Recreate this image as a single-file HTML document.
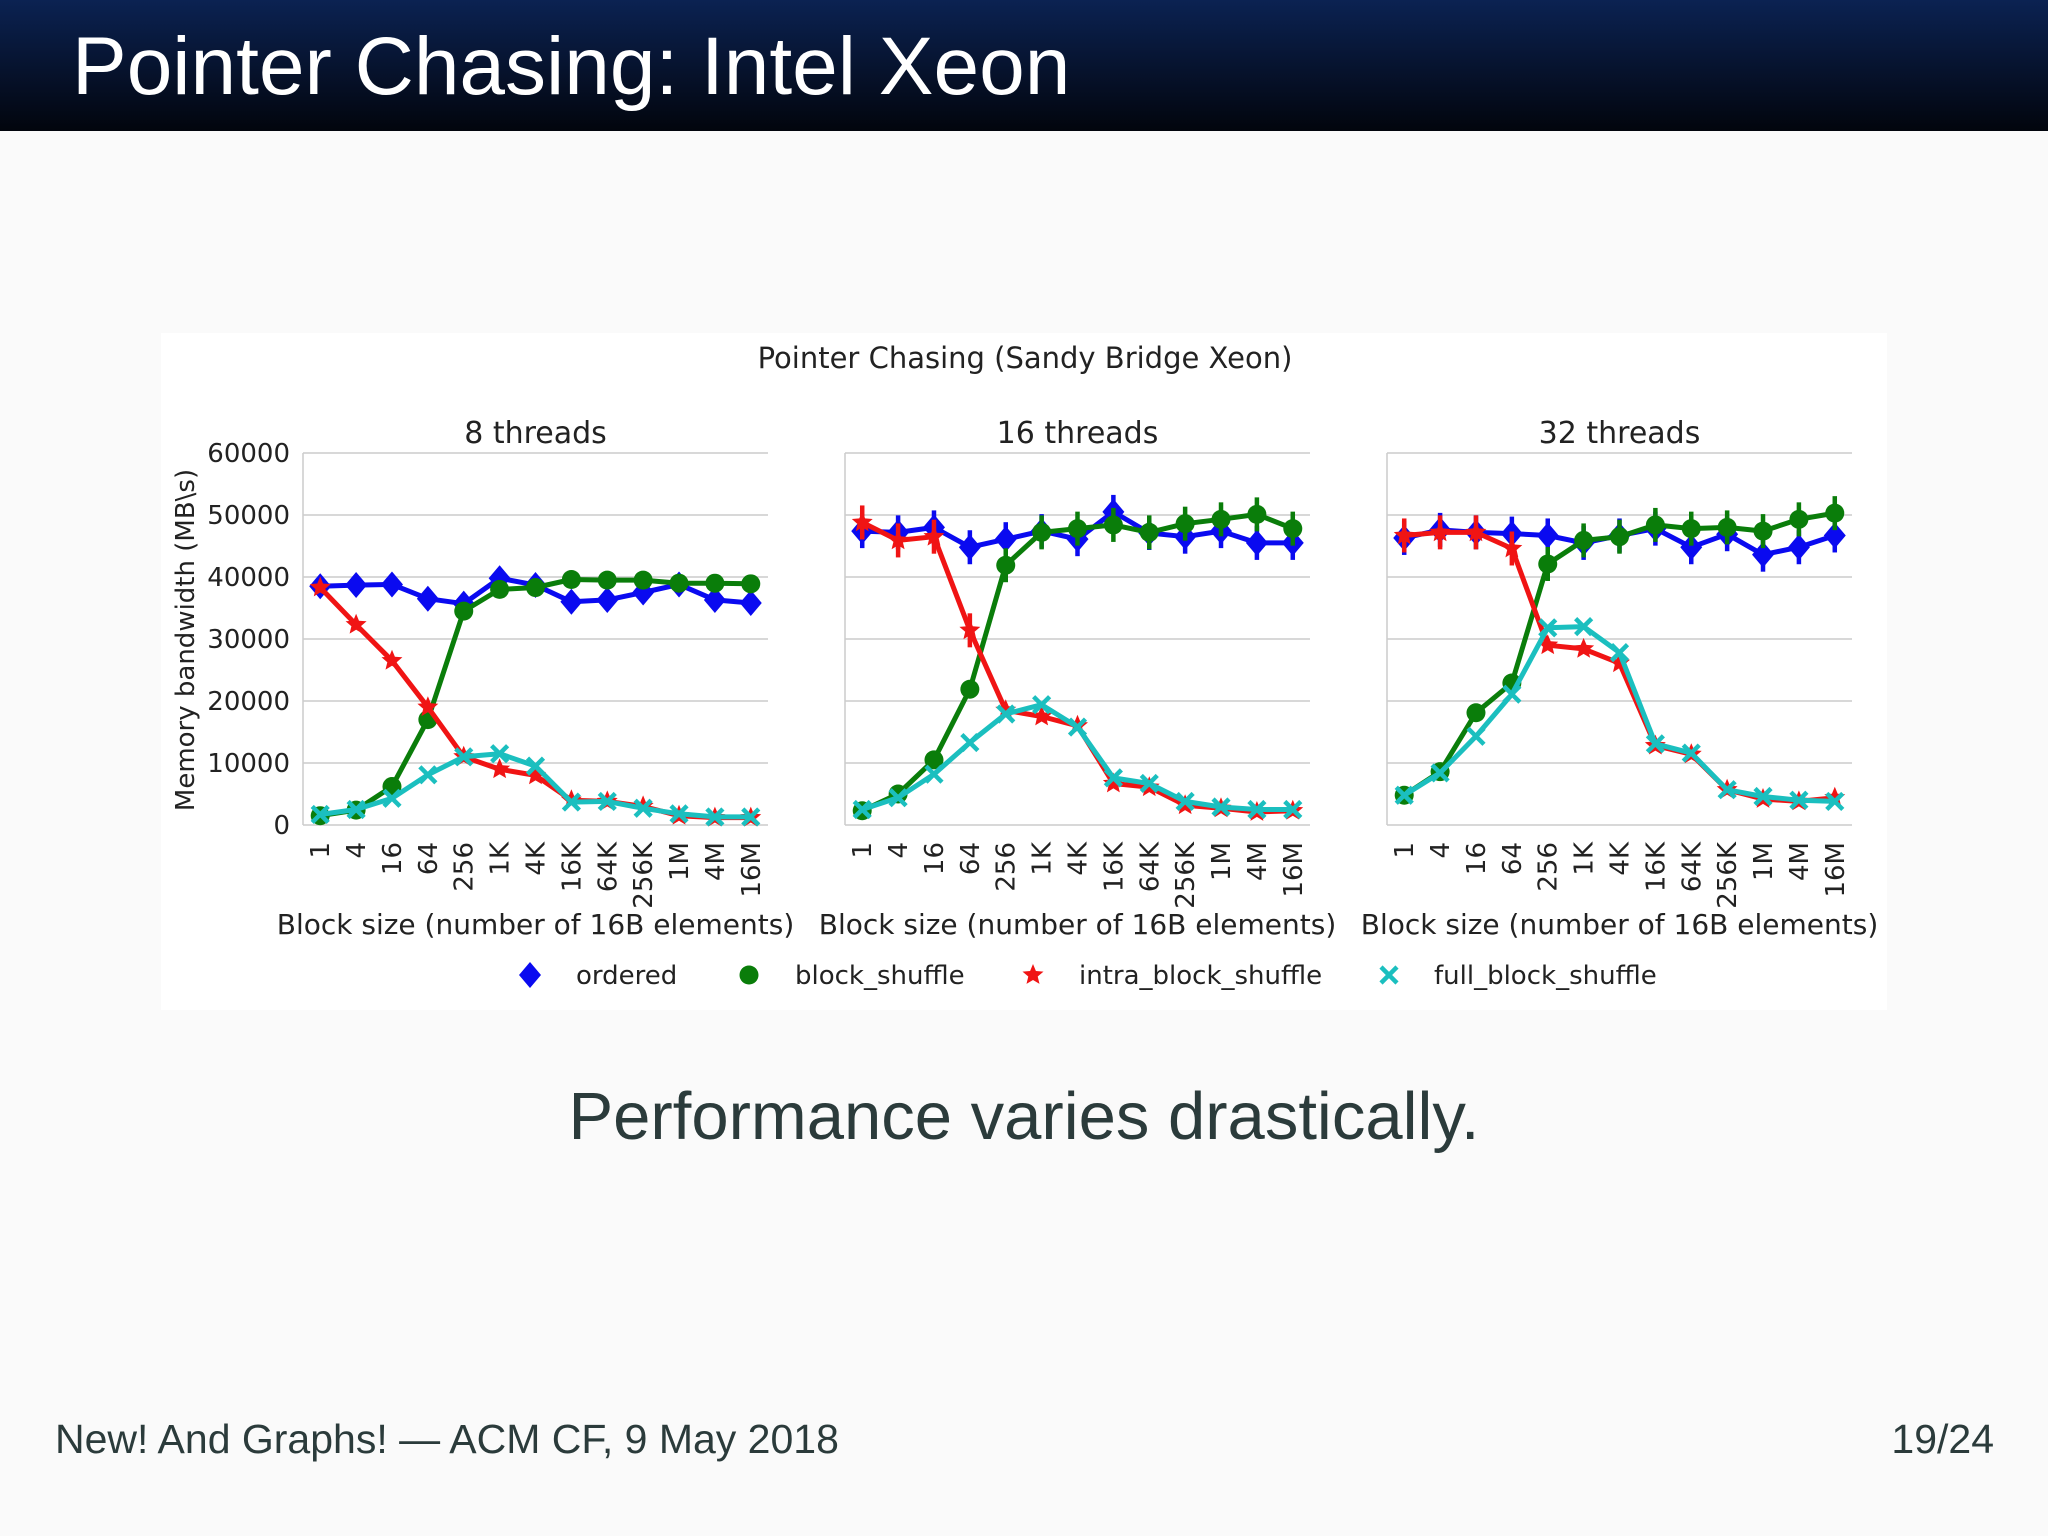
<!DOCTYPE html>
<html><head><meta charset="utf-8"><style>
body{margin:0;width:2048px;height:1536px;background:#fafafa;overflow:hidden;font-family:"DejaVu Sans","Liberation Sans",sans-serif}
#bar{position:absolute;left:0;top:0;width:2048px;height:131px;background:linear-gradient(#0b2252,#02050d)}
#bar div{position:absolute;left:72px;top:20px;color:#fff;font-size:82px;font-family:"Liberation Sans",sans-serif}
#sub{position:absolute;left:0;width:2048px;top:1078px;text-align:center;font-size:67px;color:#2b3b3b;font-family:"Liberation Sans",sans-serif}
#foot{position:absolute;left:55px;top:1416px;font-size:41px;color:#2b3b3b;font-family:"Liberation Sans",sans-serif}
#pg{position:absolute;right:54px;top:1416px;font-size:41px;color:#2b3b3b;font-family:"Liberation Sans",sans-serif}
svg{position:absolute;left:0;top:0}
</style></head><body>
<div id="bar"><div>Pointer Chasing: Intel Xeon</div></div>
<svg id="ch" width="2048" height="1536"></svg>
<div id="sub">Performance varies drastically.</div>
<div id="foot">New! And Graphs! — ACM CF, 9 May 2018</div>
<div id="pg">19/24</div>
<script>
const categories=["1","4","16","64","256","1K","4K","16K","64K","256K","1M","4M","16M"];
const yTicks=[0,10000,20000,30000,40000,50000,60000];
const panelTitles=["8 threads","16 threads","32 threads"];
const seriesNames=["ordered","block_shuffle","intra_block_shuffle","full_block_shuffle"];
const p1Ordered=[38500,38700,38800,36500,35700,39800,38700,36000,36300,37500,38800,36300,35800];
const p1Block=[1500,2400,6200,17000,34500,38000,38300,39600,39500,39500,39000,39000,38900];
const p1Intra=[38300,32300,26500,19000,11000,9000,8000,4000,3800,3000,1500,1200,1200];
const p1Full=[1700,2500,4300,8100,11000,11500,9500,3700,3800,2700,1800,1300,1300];
const p2Ordered=[47400,47200,48000,44800,46100,47400,46100,50500,47100,46500,47400,45500,45500];
const p2Block=[2300,5000,10500,21900,41900,47200,47800,48400,47200,48600,49300,50100,47800];
const p2Intra=[48800,45900,46500,31400,18500,17500,16000,6700,6100,3200,2700,2100,2300];
const p2Full=[2500,4400,8200,13300,17900,19400,15800,7600,6700,3800,2900,2500,2500];
const p3Ordered=[46300,47600,47200,47000,46700,45500,46700,47800,44800,46900,43600,44800,46700];
const p3Block=[4800,8600,18100,22900,42100,45900,46500,48400,47800,48000,47400,49300,50300];
const p3Intra=[46700,47200,47200,44600,29000,28400,26100,12800,11400,5700,4200,3800,4400];
const p3Full=[4800,8400,14300,21100,31800,32000,27800,13100,11600,5700,4600,4000,3800];
const panelData=[[p1Ordered,p1Block,p1Intra,p1Full],[p2Ordered,p2Block,p2Intra,p2Full],[p3Ordered,p3Block,p3Intra,p3Full]];
const colors=["#0a0af0","#0a7d0a","#f01414","#1bbfbf"];
const panelLeft=[303,845,1387],PW=465,PT=453,PB=825;
const svg=document.getElementById('ch');const NS="http://www.w3.org/2000/svg";
function el(t,a,p){const e=document.createElementNS(NS,t);for(const k in a)e.setAttribute(k,a[k]);(p||svg).appendChild(e);return e;}
function txt(s,a,p){const e=el('text',a,p);e.textContent=s;return e;}
let r=el('rect',{x:161,y:333,width:1726,height:677,fill:'#fff'});


let t=txt("Pointer Chasing (Sandy Bridge Xeon)",{x:1025,y:368,'text-anchor':'middle','font-size':29,fill:'#222'});


t=txt("Memory bandwidth (MB\\s)",{transform:'translate(194,640) rotate(-90)','text-anchor':'middle','font-size':26,fill:'#222'});


function star(cx,cy,R){let p=[];for(let i=0;i<10;i++){const a=-Math.PI/2+i*Math.PI/5,rr=i%2?R*0.45:R;p.push((cx+rr*Math.cos(a)).toFixed(1)+','+(cy+rr*Math.sin(a)).toFixed(1));}return p.join(' ');}
function marker(k,x,y,g){let m;
 if(k==0)m=el('polygon',{points:`${x},${y-13} ${x+11},${y} ${x},${y+13} ${x-11},${y}`,fill:colors[0]},g);
 else if(k==1)m=el('circle',{cx:x,cy:y,r:9.5,fill:colors[1]},g);
 else if(k==2)m=el('polygon',{points:star(x,y,11),fill:colors[2]},g);
 else{m=el('path',{d:`M${x-8},${y-8}L${x+8},${y+8}M${x-8},${y+8}L${x+8},${y-8}`,stroke:colors[3],'stroke-width':4.5},g);}
 return m;}
panelData.forEach((series,pi)=>{
 const L=panelLeft[pi];const g=el('g',{});
 
 
 const xs=i=>L+(i+0.48)*PW/12.96;const ys=v=>PB-(v/60000)*(PB-PT);
 yTicks.forEach(v=>{el('line',{x1:L,x2:L+PW,y1:ys(v),y2:ys(v),stroke:'#ccc','stroke-width':1.5},g);
  if(pi==0){const tl=txt(String(v),{x:290,y:ys(v)+9,'text-anchor':'end','font-size':26,fill:'#222'},g);
  
  }});
 el('line',{x1:L,x2:L,y1:PT,y2:PB,stroke:'#ccc','stroke-width':1.5},g);
 const pt=txt(panelTitles[pi],{x:L+PW/2,y:443,'text-anchor':'middle','font-size':30,fill:'#222'},g);
 
 
 categories.forEach((c,i)=>{const tl=txt(c,{transform:`translate(${xs(i)+9},842) rotate(-90)`,'text-anchor':'end','font-size':26,fill:'#222'},g);
  
  });
 const xt=txt("Block size (number of 16B elements)",{x:L+PW/2,y:934,'text-anchor':'middle','font-size':28,fill:'#222'},g);
 
 
 series.forEach((vals,k)=>{
  const pts=vals.map((v,i)=>xs(i).toFixed(1)+','+ys(v).toFixed(1)).join(' ');
  const ln=el('polyline',{points:pts,fill:'none',stroke:colors[k],'stroke-width':5,'stroke-linejoin':'round'},g);
  
  
  vals.forEach((v,i)=>{
   if(pi>0&&k<3&&v>30000)el('line',{x1:xs(i),x2:xs(i),y1:ys(v)-17,y2:ys(v)+17,stroke:colors[k],'stroke-width':4.5},g);
   const m=marker(k,xs(i),ys(v),g);
   
   });
 });
});
const legX=[530,749,1033,1389],legTX=[576,795,1079,1434];
seriesNames.forEach((n,k)=>{const m=marker(k,legX[k],975,svg);
 
 
 const tl=txt(n,{x:legTX[k],y:984,'font-size':26,fill:'#222'});
 
 });
</script>
</body></html>
